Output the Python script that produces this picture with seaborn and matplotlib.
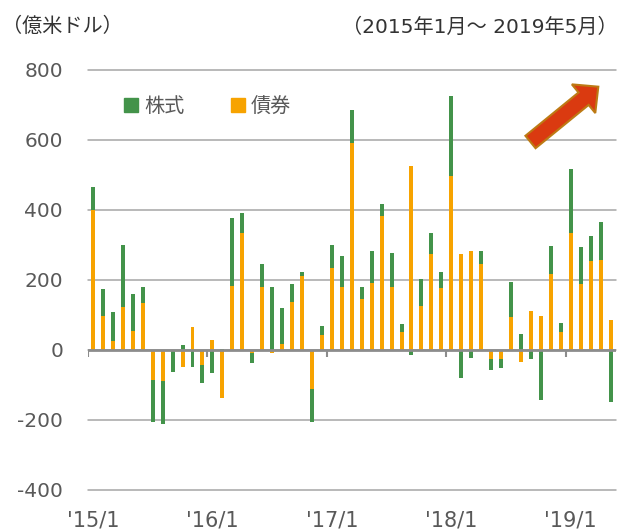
import numpy as np
import pandas as pd
import matplotlib
matplotlib.use("Agg")
import matplotlib.pyplot as plt
import seaborn as sns
from matplotlib.lines import Line2D
from matplotlib.patches import FancyArrow
from matplotlib.transforms import IdentityTransform

# ---- data (億米ドル), 2015/1 - 2019/5 ----
months = [f"{y}/{m}" for y in range(2015, 2020) for m in range(1, 13)][:53]
bond = [400, 98, 26, 124, 54, 133, -86, -90, 0, -50, 66, -43,
        28, -138, 183, 333, -10, 179, -9, 17, 137, 210, -112, 43,
        235, 181, 592, 146, 192, 384, 180, 50, 526, 127, 275, 178,
        497, 273, 284, 245, -27, -27, 93, -35, 112, 97, 217, 50,
        335, 189, 254, 257, 86]
stock = [66, 76, 82, 175, 105, 48, -119, -121, -62, 14, -50, -52,
         -67, 3, 193, 57, -26, 68, 180, 102, 52, 13, -93, 25,
         64, 87, 94, 33, 90, 34, 98, 25, -15, 75, 58, 45,
         229, -81, -24, 37, -30, -25, 102, 46, -27, -143, 81, 28,
         181, 104, 73, 108, -149]
xtick_labels = ["'15/1", "'16/1", "'17/1", "'18/1", "'19/1"]
xtick_months = ["2015/1", "2016/1", "2017/1", "2018/1", "2019/1"]
ytick_values = [-400, -200, 0, 200, 400, 600, 800]
ytick_labels = ["-400", "-200", "0", "200", "400", "600", "800"]
series_names = ["株式", "債券"]

GREEN = "#43934A"
ORANGE = "#F7A300"
GRAY_TXT = "#595959"
FS = 14.5

sns.set_theme(style="white")
plt.rcParams["font.family"] = ["DejaVu Sans", "Noto Sans CJK JP"]
CJK = ["Noto Sans CJK JP", "DejaVu Sans"]
MIX = ["DejaVu Sans", "Noto Sans CJK JP"]

b = np.array(bond, dtype=float)
s = np.array(stock, dtype=float)
df = pd.DataFrame({
    "month": months,
    "pos_total": np.clip(b, 0, None) + np.clip(s, 0, None),
    "neg_total": np.clip(b, None, 0) + np.clip(s, None, 0),
    "bond_pos": np.clip(b, 0, None),
    "bond_neg": np.clip(b, None, 0),
})

fig = plt.figure(figsize=(6.22, 5.32), dpi=100)
ax = fig.add_axes([88 / 622, 1 - 490 / 532, 527.5 / 622, 420 / 532])

for col, color in [("pos_total", GREEN), ("neg_total", GREEN),
                   ("bond_pos", ORANGE), ("bond_neg", ORANGE)]:
    sns.barplot(data=df, x="month", y=col, order=months, color=color,
                width=0.4, linewidth=0, saturation=1, errorbar=None, ax=ax)

ax.set_xlim(-0.5, len(months) - 0.5)
ax.set_ylim(-400, 800)
ax.set_xlabel("")
ax.set_ylabel("")
for sp in ax.spines.values():
    sp.set_visible(False)

ax.set_yticks(ytick_values)
ax.set_yticklabels(ytick_labels)
ax.yaxis.grid(True, color="#A6A6A6", linewidth=1.1)
ax.set_axisbelow(True)
for gl in ax.get_ygridlines():
    gl.set_clip_on(False)
ax.tick_params(axis="y", length=0, pad=18, labelsize=FS, labelcolor=GRAY_TXT)

xt = [months.index(m) for m in xtick_months]
ax.set_xticks(xt)
ax.set_xticklabels(xtick_labels)
ax.tick_params(axis="x", length=0, pad=15, labelsize=FS + 0.5, labelcolor=GRAY_TXT)

# zero axis line and small category-boundary ticks
ax.axhline(0, color="#8C8C8C", linewidth=2, zorder=5)
ax.vlines([p - 0.5 for p in xt], -20, 0, color="#8C8C8C", linewidth=1.5, zorder=5)

# legend
handles = [Line2D([], [], marker="s", linestyle="", color=GREEN, markersize=9.5),
           Line2D([], [], marker="s", linestyle="", color=ORANGE, markersize=9.5)]
leg = ax.legend(handles, series_names, loc="center left",
                bbox_to_anchor=(0.068, 0.912), ncol=2, frameon=False,
                handlelength=0.7, handletextpad=0.3, columnspacing=2.3,
                borderpad=0, borderaxespad=0,
                prop={"family": CJK, "size": FS})
for t in leg.get_texts():
    t.set_color(GRAY_TXT)

# header texts
fig.text(2 / 622, 1 - 26 / 532, "（億米ドル）", ha="left", va="center",
         fontsize=FS, color="#333333", family=CJK)
fig.text(342 / 622, 1 - 27 / 532, "（2015年1月～ 2019年5月）", ha="left",
         va="center", fontsize=FS, color="#333333", family=MIX)

# trend arrow
arrow = FancyArrow(530.5, 532 - 142, 67.8, 55.3, width=16, head_width=37,
                   head_length=19, length_includes_head=True,
                   facecolor="#DA3A10", edgecolor="#BD7A14", linewidth=1.5,
                   transform=IdentityTransform())
fig.add_artist(arrow)

fig.savefig("out.png", dpi=100)
